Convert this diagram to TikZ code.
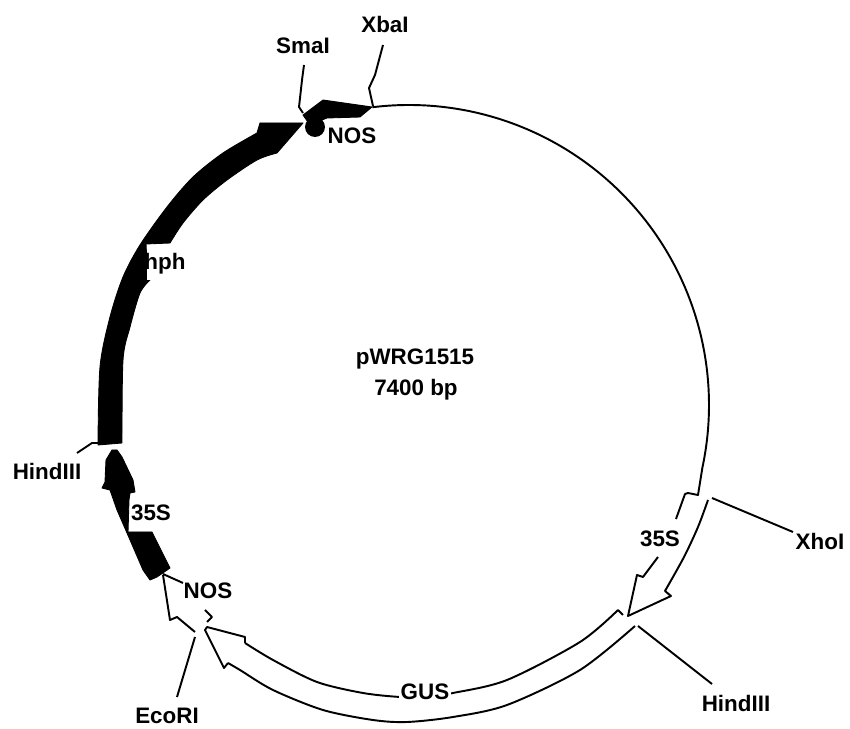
\documentclass[tikz,border=0pt]{standalone}
\usepackage{fontspec}
\setmainfont{Liberation Sans}
\tikzset{
  lab/.style={font=\fontsize{12.75}{14}\selectfont\bfseries,anchor=base,inner sep=0pt,text=black},
  thin line/.style={draw=black,line width=1.1pt,line join=round},
  solid part/.style={fill=black,draw=black,line width=0.5pt,line join=round},
}
\begin{document}
\begin{tikzpicture}[x=0.02cm,y=-0.02cm]
\useasboundingbox[fill=white] (0,0) rectangle (850,729);
% backbone circle
\coordinate (cen) at (409,405);
\draw[thin line] (cen) ++(-97:300) arc[start angle=-97,end angle=12,radius=300] -- (698,495) -- (688,493) -- (685,494) -- (676,519);
% 35S (right) open arrow
\draw[thin line] (658,557) -- (643,577) -- (637,575) -- (628,616) -- (671,596) -- (665,591)
  -- plot[smooth] coordinates {(665,591) (684,557) (698,527) (708,500)};
% GUS open arrow
\draw[thin line] plot[smooth] coordinates {(618,610) (580,642) (507,680) (453,693) (425,697)};
\draw[thin line] plot[smooth] coordinates {(425,697) (400,697) (363,693) (317,682) (273,660) (245,643)};
\draw[thin line] (618,610) -- (623,615);
\draw[thin line] (245,643) -- (245,637) -- (207,627) -- (205,630) -- (224,668) -- (228,663);
\draw[thin line] plot[smooth] coordinates {(228,663) (240,670) (273,690) (323,710) (373,720) (407,722) (453,717) (507,705) (580,670) (635,626)};
\draw[thin line] (205,610) -- (212,617) -- (207,622);
% NOS (lower) open arrow
\draw[thin line] (163,575) -- (170,620) -- (177,617) -- (195,632);
% hph
\draw[solid part] plot[smooth] coordinates {(98,445) (100,367) (110,317) (123,277) (140,245) (167,207) (193,177) (223,153) (257,133)}
  -- (260,123) -- (303,123) -- (277,153)
  -- plot[smooth] coordinates {(277,153) (257,160) (227,180) (203,200) (183,223) (170,243)}
  -- (146,244) -- (148,280)
  -- plot[smooth] coordinates {(150,280) (140,293) (130,327) (123,360) (122,443)} -- cycle;
\fill[white] (147,245) rectangle (192,280);
% 35S (left) solid
\draw[solid part] (112,450) -- (106,460) -- (105,482) -- (102,488) -- (110,490) -- (117,510) -- (127,533) -- (143,570) -- (150,580) -- (157,577) -- (170,568) -- (152,532) -- (128,532) -- (129,500) -- (130,493) -- (135,492) -- (133,480) -- (122,457) -- (117,450) -- cycle;
% top NOS and arrow
\fill[black] (315,127) circle[radius=10];
\draw[solid part] (372,107) -- (323,100) -- (303,115) -- (310,125) -- (327,118) -- (360,117) -- cycle;
% labels
\node[lab] (xba) at (385,33) {XbaI};
\node[lab] (sma) at (303,54) {SmaI};
\node[lab] (nosa) at (352,144) {NOS};
\node[lab] (hph) at (165,270) {hph};
\node[lab] (hinda) at (47,480) {HindIII};
\node[lab] (ssa) at (151,521) {35S};
\node[lab] (nosb) at (208,599) {NOS};
\node[lab] (eco) at (167,724) {EcoRI};
\node[lab,fill=white,inner xsep=1pt] (gus) at (425,700) {GUS};
\node[lab] (ssb) at (660,547) {35S};
\node[lab] (xho) at (820,550) {XhoI};
\node[lab] (hindb) at (736,712) {HindIII};
\node[lab] (name) at (415,365) {pWRG1515};
\node[lab] (size) at (416,396) {7400 bp};
% leader lines
\coordinate (xbaE) at (373,106);
\coordinate (xbaS) at (383,45);
\coordinate (smaE) at (303,113);
\coordinate (smaS) at (304,65);
\coordinate (hindaE) at (110,443);
\coordinate (hindaS) at (77,453);
\coordinate (nosbE) at (163,574);
\coordinate (nosbS) at (183,583);
\coordinate (ecoE) at (195,637);
\coordinate (ecoS) at (177,697);
\coordinate (xhoE) at (712,498);
\coordinate (xhoS) at (793,532);
\coordinate (hindbE) at (638,626);
\coordinate (hindbS) at (712,684);
\draw[thin line] (xbaS) -- (375,75) -- (369,88) -- (xbaE);
\draw[thin line] (smaS) -- (302,80) -- (299,107) -- (smaE);
\draw[thin line] (hindaS) -- (92,443) -- (hindaE);
\draw[thin line] (nosbE) -- (nosbS);
\draw[thin line] (ecoE) -- (ecoS);
\draw[thin line] (xhoE) -- (xhoS);
\draw[thin line] (hindbE) -- (hindbS);
\end{tikzpicture}
\end{document}
